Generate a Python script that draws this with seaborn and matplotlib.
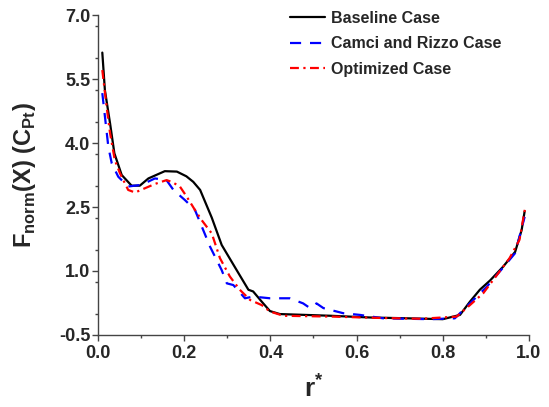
import matplotlib
matplotlib.use('Agg')
import matplotlib.pyplot as plt
from matplotlib.ticker import MultipleLocator
import seaborn as sns

# 曲线数据
baseline_x = [0.01, 0.016, 0.028, 0.038, 0.055, 0.078, 0.097, 0.117, 0.155, 0.183, 0.205, 0.221,
              0.237, 0.264, 0.287, 0.32, 0.349, 0.36, 0.38, 0.399, 0.422, 0.54, 0.63, 0.72, 0.80,
              0.84, 0.863, 0.886, 0.91, 0.94, 0.968, 0.983, 0.99]
baseline_y = [6.12, 5.24, 4.46, 3.76, 3.25, 3.0, 3.0, 3.17, 3.34, 3.33, 3.22, 3.09,
              2.90, 2.25, 1.61, 1.05, 0.56, 0.52, 0.28, 0.06, -0.01, -0.05, -0.09, -0.11, -0.13,
              -0.03, 0.28, 0.56, 0.78, 1.1, 1.45, 1.96, 2.4]

camci_x = [0.01, 0.024, 0.032, 0.047, 0.07, 0.101, 0.132, 0.159, 0.175, 0.202, 0.225, 0.26,
           0.287, 0.299, 0.314, 0.341, 0.36, 0.399, 0.445, 0.476, 0.492, 0.507, 0.523, 0.569,
           0.608, 0.662, 0.77, 0.828, 0.863, 0.902, 0.94, 0.968, 0.99]
camci_y = [5.17, 3.91, 3.52, 3.21, 2.98, 3.02, 3.17, 3.13, 2.9, 2.66, 2.43, 1.57,
           1.02, 0.71, 0.67, 0.36, 0.40, 0.36, 0.36, 0.24, 0.13, 0.24, 0.13, 0.01,
           -0.03, -0.11, -0.13, -0.11, 0.24, 0.63, 1.08, 1.42, 2.27]

optimized_x = [0.01, 0.02, 0.028, 0.039, 0.051, 0.07, 0.086, 0.109, 0.132, 0.159, 0.171, 0.19,
               0.206, 0.225, 0.24, 0.264, 0.283, 0.306, 0.329, 0.353, 0.38, 0.399, 0.43, 0.546,
               0.65, 0.75, 0.832, 0.863, 0.894, 0.955, 0.978, 0.991]
optimized_y = [5.71, 4.85, 4.23, 3.60, 3.29, 2.90, 2.84, 2.94, 3.04, 3.13, 3.09, 2.98,
               2.74, 2.43, 2.2, 1.88, 1.30, 0.87, 0.56, 0.32, 0.20, 0.05, -0.05, -0.07,
               -0.1, -0.12, -0.07, 0.2, 0.48, 1.30, 1.73, 2.47]

labels = ['Baseline Case', 'Camci and Rizzo Case', 'Optimized Case']
x_ticks = [0.0, 0.2, 0.4, 0.6, 0.8, 1.0]
y_ticks = [-0.5, 1.0, 2.5, 4.0, 5.5, 7.0]

sns.set_style('ticks')
plt.rcParams['font.family'] = ['Liberation Sans', 'DejaVu Sans']
plt.rcParams['font.weight'] = 'bold'
plt.rcParams['mathtext.fontset'] = 'custom'
plt.rcParams['mathtext.bf'] = 'Liberation Sans:bold'
plt.rcParams['mathtext.rm'] = 'Liberation Sans:bold'

fig = plt.figure(figsize=(5.49, 4.07), dpi=100)
ax = fig.add_axes([0.1785, 0.177, 0.785, 0.786])

sns.lineplot(x=baseline_x, y=baseline_y, ax=ax, color='black', linewidth=1.6,
             label=labels[0], sort=False)
sns.lineplot(x=camci_x, y=camci_y, ax=ax, color='#0000ff', linewidth=1.6,
             label=labels[1], sort=False)
sns.lineplot(x=optimized_x, y=optimized_y, ax=ax, color='#ff0000', linewidth=1.6,
             label=labels[2], sort=False)
ax.lines[1].set_dashes([5, 4])
ax.lines[2].set_dashes([4, 2, 1, 2])

ax.set_xlim(0, 1.0)
ax.set_ylim(-0.5, 7.0)
ax.set_xticks(x_ticks)
ax.set_yticks(y_ticks)
ax.xaxis.set_minor_locator(MultipleLocator(0.1))
ax.yaxis.set_minor_locator(MultipleLocator(0.75))
ax.set_xticklabels([f'{v:.1f}' for v in x_ticks])
ax.set_yticklabels([f'{v:.1f}' for v in y_ticks])

ax.tick_params(which='major', direction='out', length=4.5, width=1, color='#444444',
               labelsize=13)
ax.tick_params(axis='x', which='major', pad=3)
ax.tick_params(axis='y', which='major', pad=1)
ax.tick_params(which='minor', direction='out', length=2.5, width=1, color='#444444')
for lab in ax.get_xticklabels() + ax.get_yticklabels():
    lab.set_fontweight('bold')

sns.despine(ax=ax)
for side in ['left', 'bottom']:
    ax.spines[side].set_color('#444444')
    ax.spines[side].set_linewidth(1)

ax.set_xlabel(r'r$^{\mathbf{*}}$', fontsize=19, fontweight='bold', labelpad=8)
ax.set_ylabel(r'F$_{\mathbf{norm}}$(X) (C$_{\mathbf{Pt}}$)', fontsize=17, fontweight='bold',
              labelpad=15)

leg = ax.legend(loc='upper left', bbox_to_anchor=(0.445, 1.013), frameon=False,
                prop={'weight': 'bold', 'size': 11.5}, handlelength=2.2, handletextpad=0.37,
                labelspacing=0.65, borderaxespad=0, borderpad=0)

plt.savefig('out.png', dpi=100)
plt.close()
